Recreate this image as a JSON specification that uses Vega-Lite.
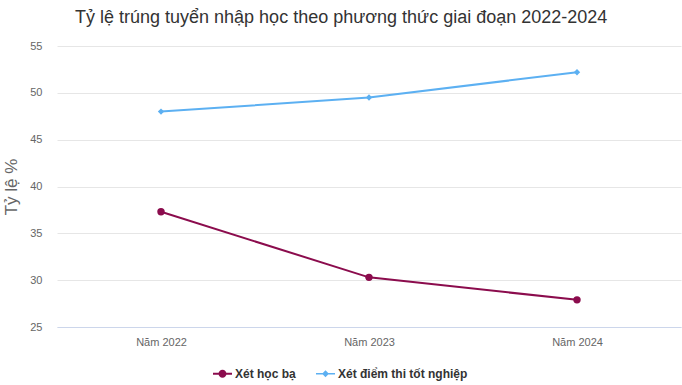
{
  "$schema": "https://vega.github.io/schema/vega-lite/v6.json",
  "width": 624,
  "height": 281,
  "autosize": {"type": "none"},
  "padding": {"left": 57, "top": 46, "right": 1, "bottom": 58},
  "background": "#ffffff",
  "title": {
    "text": "Tỷ lệ trúng tuyển nhập học theo phương thức giai đoạn 2022-2024",
    "anchor": "start",
    "frame": "group",
    "dx": 18,
    "offset": 13,
    "font": "Liberation Sans",
    "fontSize": 18,
    "fontWeight": "normal",
    "color": "#333333"
  },
  "data": {
    "values": [
      {"year": "Năm 2022", "series": "Xét học bạ", "value": 37.3},
      {"year": "Năm 2023", "series": "Xét học bạ", "value": 30.3},
      {"year": "Năm 2024", "series": "Xét học bạ", "value": 27.9},
      {"year": "Năm 2022", "series": "Xét điểm thi tốt nghiệp", "value": 48.0},
      {"year": "Năm 2023", "series": "Xét điểm thi tốt nghiệp", "value": 49.5},
      {"year": "Năm 2024", "series": "Xét điểm thi tốt nghiệp", "value": 52.2}
    ]
  },
  "config": {
    "view": {"stroke": null},
    "font": "Liberation Sans"
  },
  "encoding": {
    "x": {
      "field": "year",
      "type": "ordinal",
      "scale": {"type": "point", "padding": 0.5},
      "axis": {
        "title": null,
        "labelAngle": 0,
        "labelFont": "Liberation Sans",
        "labelFontSize": 11,
        "labelColor": "#666666",
        "labelPadding": 9,
        "ticks": false,
        "domainColor": "#ccd6eb",
        "domainWidth": 1,
        "grid": false
      }
    },
    "y": {
      "field": "value",
      "type": "quantitative",
      "scale": {"domain": [25, 55], "nice": false, "zero": false},
      "axis": {
        "title": "Tỷ lệ %",
        "titleFont": "Liberation Sans",
        "titleFontSize": 17,
        "titleFontWeight": "normal",
        "titleColor": "#666666",
        "titlePadding": 9,
        "values": [25, 30, 35, 40, 45, 50, 55],
        "labelFont": "Liberation Sans",
        "labelFontSize": 11,
        "labelColor": "#666666",
        "labelPadding": 15,
        "ticks": false,
        "domain": false,
        "grid": true,
        "gridColor": "#e6e6e6",
        "gridWidth": 1
      }
    },
    "color": {
      "field": "series",
      "type": "nominal",
      "scale": {
        "domain": ["Xét học bạ", "Xét điểm thi tốt nghiệp"],
        "range": ["#8b0c4d", "#5cb0f2"]
      },
      "legend": {
        "title": null,
        "orient": "none",
        "direction": "horizontal",
        "legendX": 156,
        "legendY": 318,
        "labelFont": "Liberation Sans",
        "labelFontSize": 12,
        "labelFontWeight": "bold",
        "labelColor": "#333333",
        "symbolType": "M-1,-0.1H1V0.1H-1Z M0.42,0A0.42,0.42,0,1,1,-0.42,0A0.42,0.42,0,1,1,0.42,0Z",
        "symbolSize": 361,
        "symbolStrokeWidth": 0,
        "symbolOpacity": 1,
        "labelOffset": 3,
        "columnPadding": 20,
        "encode": {
          "symbols": {
            "update": {
              "shape": {
                "signal": "datum.value === 'Xét học bạ' ? 'M-1,-0.1H1V0.1H-1Z M0.42,0A0.42,0.42,0,1,1,-0.42,0A0.42,0.42,0,1,1,0.42,0Z' : 'M-1,-0.08H1V0.08H-1Z M0,-0.36L0.36,0L0,0.36L-0.36,0Z'"
              },
              "fill": {"scale": "color", "field": "value"},
              "strokeWidth": {"value": 0}
            }
          }
        }
      }
    }
  },
  "layer": [
    {
      "mark": {"type": "line", "strokeWidth": 2}
    },
    {
      "transform": [{"filter": "datum.series === 'Xét học bạ'"}],
      "mark": {"type": "point", "filled": true, "opacity": 1, "shape": "circle", "size": 55}
    },
    {
      "transform": [{"filter": "datum.series === 'Xét điểm thi tốt nghiệp'"}],
      "mark": {"type": "point", "filled": true, "opacity": 1, "shape": "diamond", "size": 40}
    }
  ]
}
